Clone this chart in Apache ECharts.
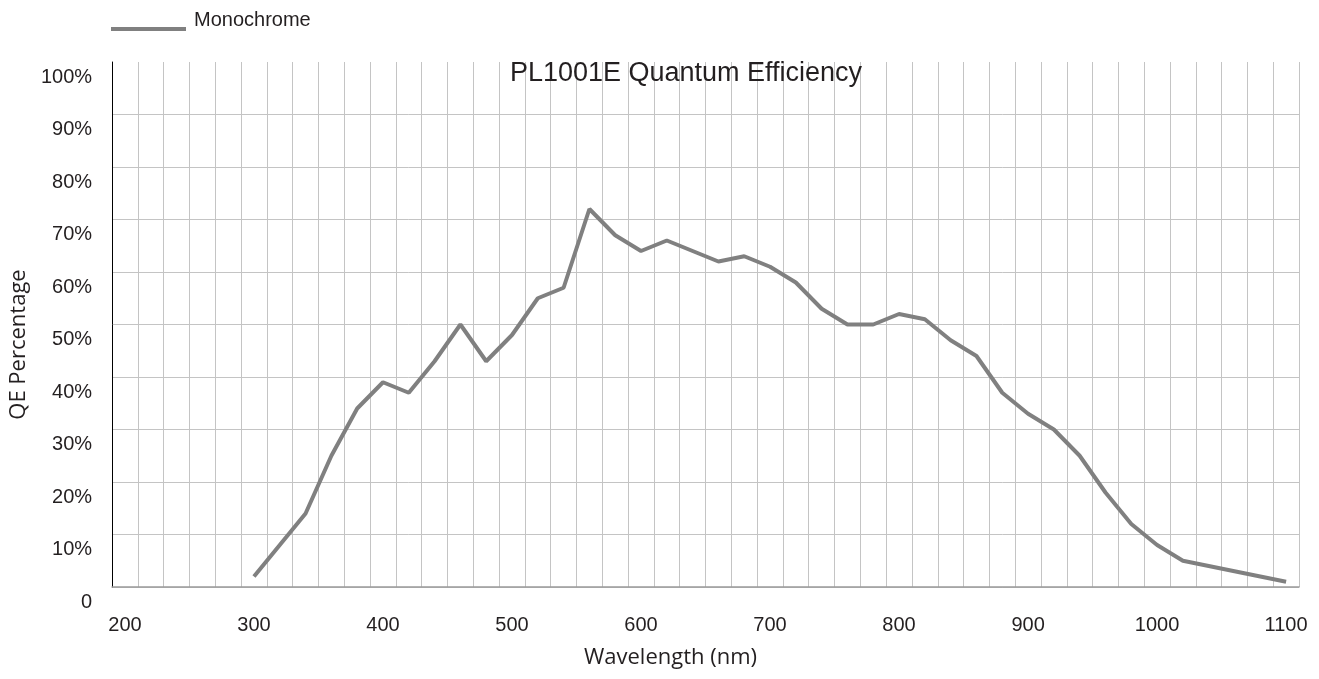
<!DOCTYPE html>
<html>
<head>
<meta charset="utf-8">
<script src="https://cdn.jsdelivr.net/npm/echarts@6/dist/echarts.min.js"></script>
<style>
  html, body { margin: 0; padding: 0; background: #fff; }
  #main { width: 1319px; height: 679px; }
</style>
</head>
<body>
<div id="main"></div>
<script>
// wavelength categories, 20 nm steps
var wavelengths = ['200','220','240','260','280','300','320','340','360','380',
    '400','420','440','460','480','500','520','540','560','580',
    '600','620','640','660','680','700','720','740','760','780',
    '800','820','840','860','880','900','920','940','960','980',
    '1000','1020','1040','1060','1080','1100'];

// QE in percent (no data below 300 nm)
var monochrome = [null, null, null, null, null, 2, 8, 14, 25, 34,
    39, 37, 43, 50, 43, 48, 55, 57, 72, 67,
    64, 66, 64, 62, 63, 61, 58, 53, 50, 50,
    52, 51, 47, 44, 37, 33, 30, 25, 18, 12,
    8, 5, 4, 3, 2, 1];

var yTicks = [0, 10, 20, 30, 40, 50, 60, 70, 80, 90, 100];

var labelFont = 'Liberation Sans, Arial, sans-serif';
var nameFont = 'Open Sans, sans-serif';
var textColor = '#231f20';
var gridColor = '#c4c4c4';

var myChart = echarts.init(document.getElementById('main'));

var option = {
    animation: false,
    backgroundColor: '#fff',
    title: {
        text: 'PL1001E Quantum Efficiency',
        left: 681,
        textAlign: 'center',
        top: 55,
        textStyle: { fontFamily: labelFont, fontSize: 27, fontWeight: 'normal', color: textColor }
    },
    legend: {
        left: 106,
        top: 4,
        // line sits low in the icon box so the label ends up above it
        icon: 'path://M0,0 M0,18 L75,18 L75,22 L0,22 Z',
        itemWidth: 75,
        itemHeight: 22,
        data: ['Monochrome'],
        textStyle: { fontFamily: labelFont, fontSize: 20, color: textColor, padding: [0, 0, 0, 3] }
    },
    grid: { left: 111, right: 20, top: 62, bottom: 92 },
    xAxis: {
        type: 'category',
        data: wavelengths,
        boundaryGap: true,
        name: 'Wavelength (nm)',
        nameLocation: 'middle',
        nameGap: 60,
        nameTextStyle: { fontFamily: nameFont, fontSize: 22, color: textColor, padding: [0, 70, 0, 0] },
        axisLine: { lineStyle: { color: '#9a9a9a', width: 1.5 } },
        axisTick: { show: false },
        axisLabel: { interval: 4, margin: 28, fontFamily: labelFont, fontSize: 20, color: textColor },
        splitLine: { show: true, interval: 0, lineStyle: { color: gridColor, width: 1 } }
    },
    yAxis: {
        type: 'value',
        min: yTicks[0],
        max: yTicks[yTicks.length - 1],
        interval: 10,
        name: 'QE Percentage',
        nameLocation: 'middle',
        nameGap: 79,
        nameTextStyle: { fontFamily: nameFont, fontSize: 22, color: textColor, padding: [0, 40, 0, 0] },
        axisLine: { show: true, lineStyle: { color: '#000', width: 1 } },
        axisTick: { show: false },
        axisLabel: {
            margin: 20,
            verticalAlign: 'top',
            padding: [5, 0, 0, 0],
            fontFamily: labelFont,
            fontSize: 20,
            color: textColor,
            formatter: function (v) { return v === 0 ? '0' : v + '%'; }
        },
        splitLine: { show: true, showMaxLine: false, lineStyle: { color: gridColor, width: 1 } }
    },
    series: [{
        name: 'Monochrome',
        type: 'line',
        data: monochrome,
        symbol: 'none',
        connectNulls: false,
        color: '#808080',
        lineStyle: { color: '#808080', width: 4 }
    }]
};

myChart.setOption(option);
</script>
</body>
</html>
